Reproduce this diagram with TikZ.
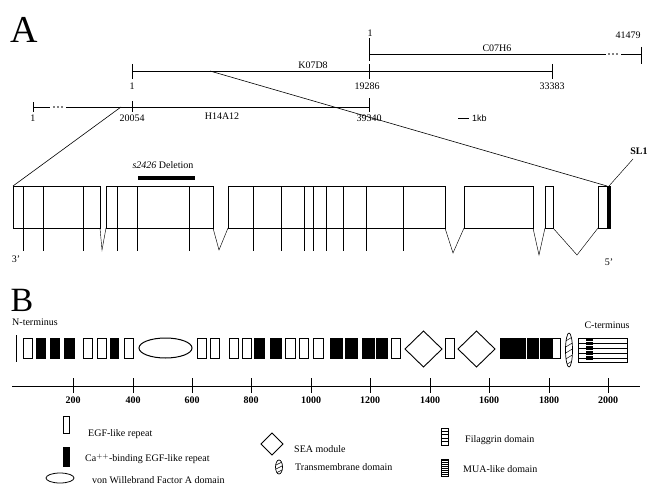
\documentclass[tikz,border=0pt]{standalone}
\usepackage{fontspec}
\setmainfont{Liberation Serif}
\newfontfamily\helv{Liberation Sans}
\begin{document}
\begin{tikzpicture}[x=1pt,y=-1pt,
  lbl/.style={font=\fontsize{10}{12}\selectfont, inner sep=0pt},
  axl/.style={font=\fontsize{10}{12}\selectfont\bfseries, inner sep=0pt},
  gl/.style={line width=0.6pt},
  ex/.style={line width=0.45pt},
  wbox/.style={draw, line width=1pt, fill=white},
  bbox/.style={draw, line width=1pt, fill=black},
  big/.style={font=\fontsize{38}{38}\selectfont, inner sep=0pt}
]
\useasboundingbox (0,0) rectangle (656,487);
% ---------- Part A ----------
\node[big] (A) at (24,30) {A};
% C07H6
\draw[gl] (369,54) -- (606,54);
\foreach \x in {609,613,617} \fill (\x,54) circle (0.8);
\draw[gl] (621,54) -- (641,54);
\draw[gl] (369,38) -- (369,61);
\draw[gl] (641,47) -- (641,64);
\node[lbl] (c1) at (370,33) {1};
\node[lbl] (c2) at (628,35) {41479};
\node[lbl] (cn) at (497,48) {C07H6};
% K07D8
\draw[gl] (132,71) -- (552,71);
\foreach \x in {132,369,552} \draw[gl] (\x,64) -- (\x,79);
\node[lbl] (kn) at (313,65) {K07D8};
\node[lbl] (k1) at (132,86) {1};
\node[lbl] (k2) at (367,86) {19286};
\node[lbl] (k3) at (552,86) {33383};
% H14A12
\draw[gl] (33,107) -- (50,107);
\foreach \x in {54,58,62} \fill (\x,107) circle (0.8);
\draw[gl] (66,107) -- (369,107);
\draw[gl] (33,102) -- (33,112);
\draw[gl] (132,101) -- (132,112);
\draw[gl] (369,98) -- (369,112);
\node[lbl] (h1) at (33,118) {1};
\node[lbl] (h2) at (132,118) {20054};
\node[lbl] (hn) at (222,116) {H14A12};
\node[lbl] (h3) at (369,118) {39340};
\draw[gl] (458,118) -- (469,118);
\node[font=\helv\fontsize{9}{11}\selectfont, inner sep=0pt, anchor=west] (kb) at (472,118) {1kb};
% zoom lines
\coordinate (zl1) at (121,107);
\coordinate (zl2) at (13,186);
\coordinate (zr1) at (210,71);
\coordinate (zr2) at (607,186);
\draw[gl] (zl1) -- (zl2);
\draw[gl] (zr1) -- (zr2);
% deletion
\node[lbl] (del) at (163,165) {\textit{s2426} Deletion};
\fill (138,175.5) rectangle (195,179.5);
% exons
\foreach \a/\b in {13/100,106/213,228/445,464/533,545/553,598/610}
  \draw[ex] (\a,186) rectangle (\b,228);
\foreach \x in {23,43,83,117,137,189,253,281,304,313,326,343,366,403}
  \draw[ex] (\x,186) -- (\x,251);
\draw[ex] (100,228) -- (102,250) -- (106,228);
\draw[ex] (213,228) -- (219,250) -- (228,228);
\draw[ex] (445,228) -- (453,253) -- (464,228);
\draw[ex] (533,228) -- (539,255) -- (545,228);
\draw[ex] (553,228) -- (577,255) -- (598,228);
\fill (606.5,186) rectangle (610,228);
\coordinate (sl) at (633,159);
\draw[ex] (609,186) -- (sl);
\node[lbl, font=\fontsize{10}{12}\selectfont\bfseries] (sl1) at (639,151) {SL1};
\node[lbl] (p3) at (16,259) {3'};
\node[lbl] (p5) at (609,262) {5'};
% ---------- Part B ----------
\node[font=\fontsize{34}{34}\selectfont, inner sep=0pt] (B) at (22,300) {B};
\node[lbl, anchor=west] (nt) at (12,322) {N-terminus};
\node[lbl] (ct) at (607,325) {C-terminus};
\draw[line width=0.8pt] (16,335) -- (16,362);
\foreach \a/\b in {36/45,50/59,64/74,110/118,254/264,270/281,330/342,345/357,362/374,376/387,500/512,513/525,527/538,540/551}
  \draw[bbox] (\a,338) rectangle (\b,358);
\foreach \a/\b in {23/32,83/92,97/106,124/133,197/206,210/219,229/238,242/251,285/295,299/308,313/323,391/400,445/454,552/560}
  \draw[wbox] (\a,338) rectangle (\b,358);
\draw[line width=1pt] (165.5,348) ellipse [x radius=26.5, y radius=10];
\draw[line width=0.9pt] (405,349) -- (423.5,331) -- (442,349) -- (423.5,367) -- cycle;
\draw[line width=0.9pt] (458,349) -- (476.5,331) -- (495,349) -- (476.5,367) -- cycle;
% transmembrane
\begin{scope}
  \clip (569,350) ellipse [x radius=3.5, y radius=17];
  \foreach \y in {330,336,...,372} \draw[line width=0.5pt] (564,\y) -- (574,\y-6);
\end{scope}
\draw[line width=0.7pt] (569,350) ellipse [x radius=3.5, y radius=17];
% C-terminal filaggrin / MUA
\fill (586,339) rectangle (593,360);
\foreach \y in {343,348,353,358} \draw[line width=0.5pt] (578,\y) -- (627,\y);
\foreach \y in {341,345.5,350.5,355.5} \draw[white, line width=0.3pt] (586,\y) -- (593,\y);
\draw[line width=0.8pt] (578,338) rectangle (627,362);
% axis
\draw[gl] (12,386) -- (640,386);
\foreach \v/\x in {200/73,400/133,600/192,800/251,1000/311,1200/370,1400/430,1600/489,1800/549,2000/608} {
  \draw[gl] (\x,378) -- (\x,393);
  \node[axl] at (\x,400) {\v};
}
% ---------- Legend ----------
\draw[line width=0.8pt, fill=white] (63,416) rectangle (69,433);
\node[lbl, anchor=west] (l1) at (88,434) {EGF-like repeat};
\draw[line width=0.8pt, fill=black] (63,447) rectangle (69,466);
\node[lbl, anchor=west] (l2) at (85,459) {Ca$^{++}$-binding EGF-like repeat};
\draw[line width=0.8pt] (60,478) ellipse [x radius=14, y radius=5];
\node[lbl, anchor=west] (l3) at (92,480) {von Willebrand Factor A domain};
\draw[line width=0.8pt] (261,444) -- (272,433) -- (283,444) -- (272,455) -- cycle;
\node[lbl, anchor=west] (l4) at (294,449) {SEA module};
\begin{scope}
  \clip (279,467) ellipse [x radius=3.5, y radius=7];
  \foreach \y in {458,462,...,478} \draw[line width=0.5pt] (274,\y) -- (284,\y-5);
\end{scope}
\draw[line width=0.7pt] (279,467) ellipse [x radius=3.5, y radius=7];
\node[lbl, anchor=west] (l5) at (295,467) {Transmembrane domain};
\draw[line width=0.7pt] (441,428) rectangle (448,445);
\foreach \y in {431,434.5,438,441.5} \draw[line width=0.4pt] (441,\y) -- (448,\y);
\node[lbl, anchor=west] (l6) at (465,440) {Filaggrin domain};
\fill (441,459) rectangle (448,476);
\foreach \y in {461,463,...,475} \draw[white, line width=0.25pt] (441,\y) -- (448,\y);
\draw[line width=0.5pt] (441,459) rectangle (448,476);
\node[lbl, anchor=west] (l7) at (463,469) {MUA-like domain};
\end{tikzpicture}
\end{document}
